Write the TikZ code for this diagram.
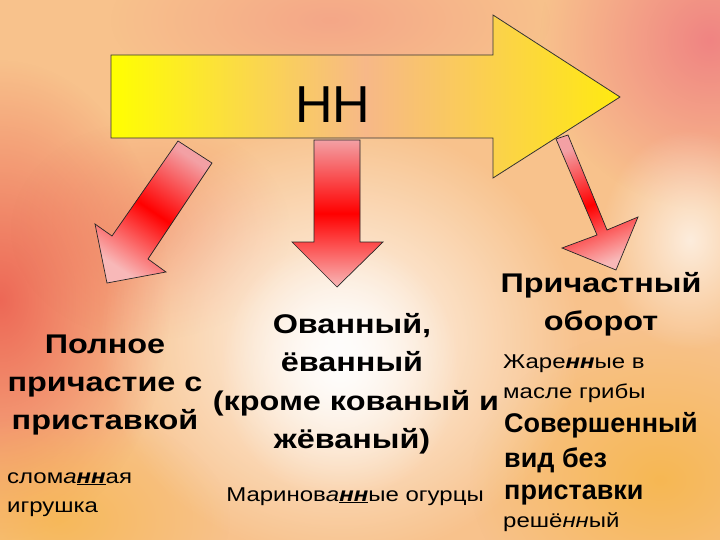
\documentclass[tikz,border=0pt]{standalone}
\usepackage{fontspec}
\setmainfont{Liberation Sans}[FakeStretch=1.2]
\newfontfamily\plainfont{Liberation Sans}
\usetikzlibrary{fadings}
\tikzfading[name=blob, inner color=transparent!0, outer color=transparent!100]
\definecolor{bgbase}{HTML}{F8C28C}
\definecolor{bgred}{HTML}{EC5E50}
\definecolor{bgpink}{HTML}{EE7480}
\definecolor{bgyel}{HTML}{F6B545}
\definecolor{ylA}{HTML}{FFFF00}
\definecolor{ylB}{HTML}{F7B888}
\definecolor{ylC}{HTML}{FFEA10}
\definecolor{rdA}{HTML}{F3A0A4}
\definecolor{rdB}{HTML}{F8B8B8}
\begin{document}
\begin{tikzpicture}[x=1pt,y=-1pt,
  blobstyle/.style={path fading=blob},
  yarrow/.style={draw=black!80, line width=0.8pt, left color=ylA, right color=ylC, middle color=ylB},
  rarrow/.style={draw=black!85, line width=0.7pt, top color=rdA, bottom color=rdB, middle color=red},
  hd/.style={font=\bfseries\fontsize{27}{30}\selectfont, inner sep=0pt},
  hdn/.style={font=\plainfont\bfseries\fontsize{27}{30}\selectfont, inner sep=0pt},
  rg/.style={font=\fontsize{20}{24}\selectfont, inner sep=0pt}]
\useasboundingbox (0,0) rectangle (720,540);
% background
\fill[bgbase] (0,0) rectangle (720,540);
\begin{scope}
\clip (0,0) rectangle (720,540);
\fill[bgred, blobstyle, opacity=0.9] (0,300) ellipse (170 and 240);
\fill[bgred, blobstyle, opacity=0.35] (150,230) ellipse (140 and 110);
\fill[bgpink, blobstyle, opacity=0.8] (710,40) ellipse (170 and 170);
\fill[bgyel, blobstyle, opacity=0.8] (660,480) ellipse (190 and 150);
\fill[bgyel, blobstyle, opacity=0.7] (60,520) ellipse (170 and 110);
\fill[bgpink, blobstyle, opacity=0.35] (330,20) ellipse (220 and 90);
\fill[white, blobstyle, opacity=0.7] (690,240) ellipse (90 and 110);
\fill[white, blobstyle, opacity=0.9] (340,340) ellipse (240 and 220);
\fill[white, blobstyle, opacity=0.9] (340,370) ellipse (120 and 130);
\end{scope}
% main arrow
\draw[yarrow] (111,55) -- (493,55) -- (493,15) -- (620,97) -- (493,178) -- (493,138) -- (111,138) -- cycle;
\node[font=\plainfont\fontsize{52}{60}\selectfont, inner sep=0pt, anchor=base] (nn) at (333,123) {НН};
% red arrows
\draw[rarrow, shading angle=-34] (178,141) -- (212,163) -- (148,259) -- (166,272) -- (107,283) -- (95,224) -- (112,236) -- cycle;
\draw[rarrow] (314,140) -- (360,140) -- (360,242) -- (383,242) -- (337,287) -- (292,242) -- (314,242) -- cycle;
\draw[rarrow, shading angle=22] (556,139) -- (568,135) -- (607,230) -- (638,217) -- (616,270) -- (562,248) -- (597,235) -- cycle;
% left column
\node[hd, anchor=base] (l1) at (105,353) {Полное};
\node[hd, anchor=base] (l2) at (105,391) {причастие с};
\node[hd, anchor=base] (l3) at (105,429) {приставкой};
\node[rg, anchor=base west] (l4) at (7,483) {слом\textit{а}\underline{\textbf{\textit{нн}}}ая};
\node[rg, anchor=base west] (l5) at (7,512) {игрушка};
% middle column
\node[hd, anchor=base] (m1) at (352,333) {Ованный,};
\node[hd, anchor=base] (m2) at (352,371) {ёванный};
\node[hd, anchor=base] (m3) at (356,410) {(кроме кованый и};
\node[hd, anchor=base] (m4) at (352,448) {жёваный)};
\node[rg, anchor=base] (m5) at (355,501) {Маринов\textit{а}\underline{\textbf{\textit{нн}}}ые огурцы};
% right column
\node[hd, anchor=base] (r1) at (601,292) {Причастный};
\node[hd, anchor=base] (r2) at (601,330) {оборот};
\node[rg, anchor=base west] (r3) at (503,368) {Жаре\textbf{\textit{нн}}ые в};
\node[rg, anchor=base west] (r4) at (503,398) {масле грибы};
\node[hdn, anchor=base west] (r5) at (504,432) {Совершенный};
\node[hdn, anchor=base west] (r6) at (504,467) {вид без};
\node[hdn, anchor=base west] (r7) at (504,499) {приставки};
\node[rg, anchor=base west] (r8) at (503,527) {решё\textit{нн}ый};
\end{tikzpicture}
\end{document}
